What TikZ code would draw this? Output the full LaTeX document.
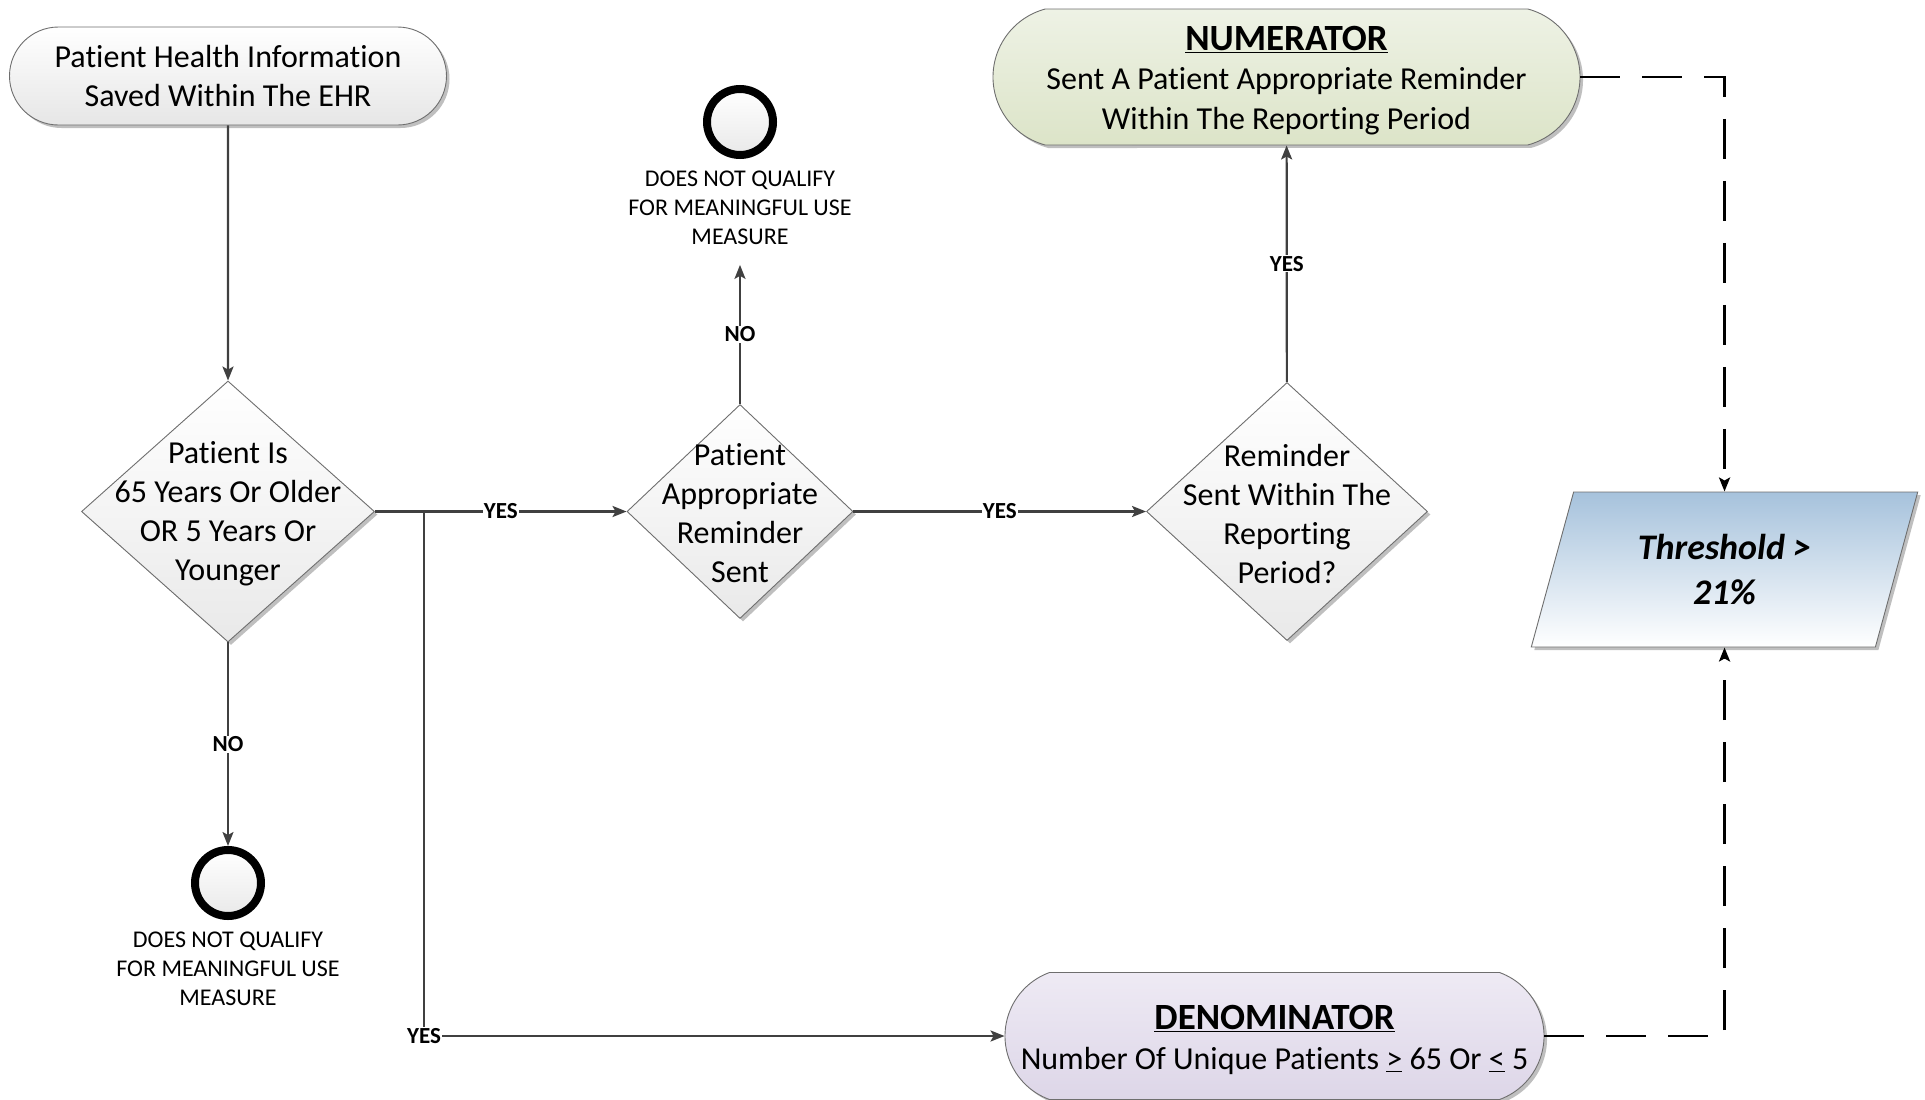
\documentclass[tikz,border=0pt]{standalone}
\usepackage{fontspec}
\setmainfont{Carlito}[Ligatures=NoCommon]
\usetikzlibrary{shapes.geometric,shapes.misc,arrows.meta,shadows}
\definecolor{conncol}{HTML}{404040}
\definecolor{edgecol}{HTML}{6E6E6E}
\definecolor{startbot}{HTML}{E6E6E6}
\definecolor{diabot}{HTML}{E9E9E9}
\definecolor{numtop}{HTML}{EEF2E5}
\definecolor{numbot}{HTML}{DCE4C8}
\definecolor{dentop}{HTML}{EEEAF4}
\definecolor{denbot}{HTML}{DDD6E8}
\definecolor{thrtop}{HTML}{A6C2DC}
\newcommand\myheadfont{\fontsize{37}{42}\selectfont\bfseries}
\begin{document}
\begin{tikzpicture}[x=1pt,y=-1pt,
  every node/.style={font=\fontsize{32}{38.5}\selectfont},
  shad/.style={drop shadow={shadow xshift=3pt,shadow yshift=-3pt,opacity=0.25,fill=black}},
  term/.style={rounded rectangle, draw=edgecol, line width=0.9pt, align=center, inner sep=0pt, shad},
  dia/.style={diamond, draw=edgecol, line width=0.9pt, inner sep=0pt, top color=white, bottom color=diabot, shad},
  diatext/.style={align=center, inner sep=0pt, yshift=-2pt, font=\fontsize{32}{39}\selectfont},
  endc/.style={circle, draw=black, line width=8pt, minimum size=66pt, inner sep=0pt, top color=white, bottom color=diabot},
  small/.style={font=\fontsize{24}{29}\selectfont, align=center, inner sep=0pt},
  lbl/.style={font=\fontsize{23}{26}\selectfont\bfseries, fill=white, inner sep=1pt},
  conn/.style={draw=conncol, line width=2.2pt, -{Stealth[length=14pt,width=11pt,inset=3pt]}},
  dconn/.style={draw=black, line width=2.6pt, dash pattern=on 40pt off 22pt, -{Stealth[length=14pt,width=11pt,inset=3pt]}}
]
\useasboundingbox (0,0) rectangle (1925,1100);

% nodes
\node[term, top color=white, bottom color=startbot, minimum width=437pt, minimum height=98pt] (st) at (228,76)
  {Patient Health Information\\Saved Within The EHR};

\node[dia, minimum width=293pt, minimum height=261pt,
  label={[diatext]center:{Patient Is\\65 Years Or Older\\OR 5 Years Or\\Younger}}] (d1) at (228,511.5) {};

\node[dia, minimum width=226pt, minimum height=214pt,
  label={[diatext]center:{Patient\\Appropriate\\Reminder\\Sent}}] (d2) at (740,511.5) {};

\node[dia, minimum width=281pt, minimum height=258pt,
  label={[diatext]center:{Reminder\\Sent Within The\\Reporting\\Period?}}] (d3) at (1287,511.5) {};

\node[endc] (c1) at (228,883) {};
\node[small] (q1) at (228,969) {DOES NOT QUALIFY\\FOR MEANINGFUL USE\\MEASURE};

\node[endc] (c2) at (740,122) {};
\node[small, outer sep=20pt] (q2) at (740,208) {DOES NOT QUALIFY\\FOR MEANINGFUL USE\\MEASURE};

\node[term, rounded rectangle arc length=150, top color=numtop, bottom color=numbot,
  minimum width=587pt, minimum height=136pt] (nu) at (1286.5,77)
  {{\myheadfont\rule{0pt}{31pt}\underline{NUMERATOR}}\\[1pt]Sent A Patient Appropriate Reminder\\[1pt]Within The Reporting Period};

\node[term, rounded rectangle arc length=140, top color=dentop, bottom color=denbot,
  minimum width=539pt, minimum height=127pt] (de) at (1274.5,1036)
  {{\myheadfont\rule{0pt}{32pt}\underline{DENOMINATOR}}\\[2pt]Number Of Unique Patients \underline{>} 65 Or \underline{<} 5};

\node[trapezium, trapezium left angle=71, trapezium right angle=109, trapezium stretches=true,
  minimum width=387pt, minimum height=155pt, draw=edgecol, line width=0.9pt,
  top color=thrtop, bottom color=white, shad, align=center, inner sep=0pt,
  font=\fontsize{36}{45}\selectfont\bfseries\itshape] (thr) at (1724.5,569.5)
  {Threshold >\\21\%};

% connectors
\coordinate (j) at (424,511.5);
\draw[conn] (st) -- (d1);
\draw[conn] (d1) -- node[lbl]{NO} (c1);
\draw[conn] (d1) -- node[lbl]{YES} (d2);
\draw[conn] (j) |- node[lbl,pos=0.5]{YES} (de);
\draw[conn] (d2) -- node[lbl]{NO} (q2);
\draw[conn] (d2) -- node[lbl]{YES} (d3);
\draw[conn] (d3) -- node[lbl]{YES} (nu);
\draw[dconn] (nu) -| (thr);
\draw[dconn] (de) -| (thr);
\end{tikzpicture}
\end{document}
